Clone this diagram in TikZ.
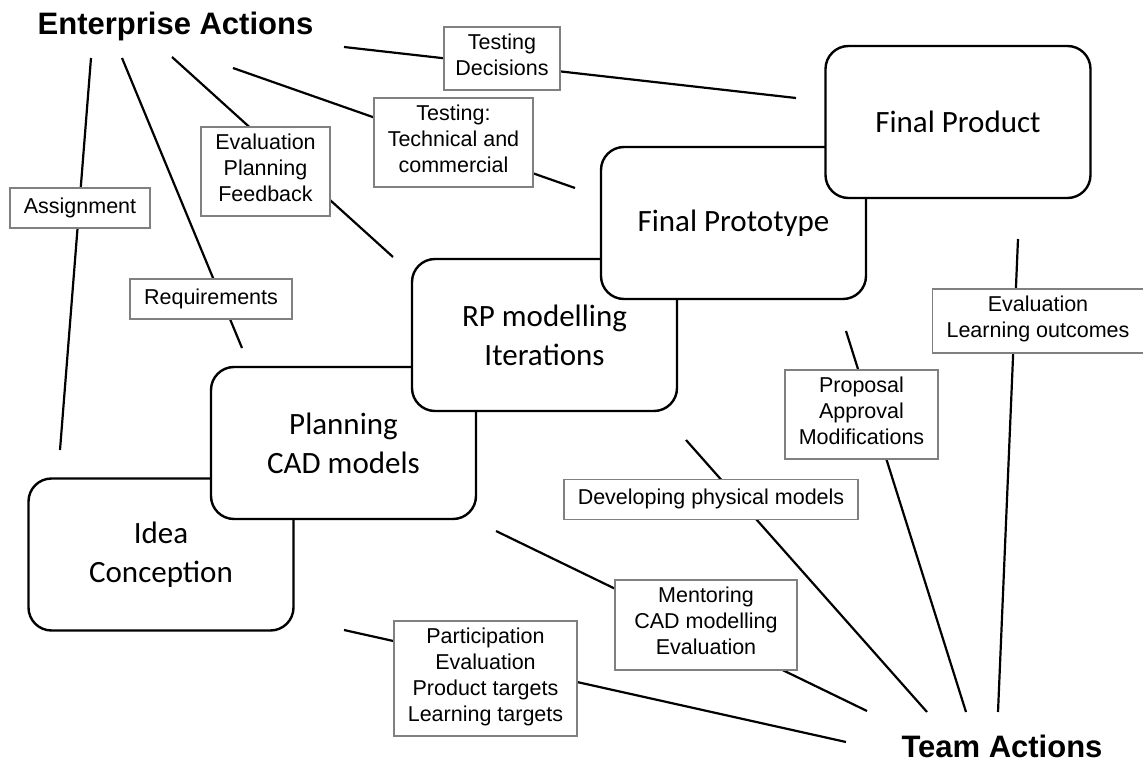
\documentclass[tikz,border=0pt]{standalone}
\usepackage{fontspec}
\setmainfont{Liberation Sans}
\newfontfamily\stagefont{Carlito}
\usetikzlibrary{positioning}
\tikzset{
  stage/.style={draw, line width=2.4pt, rounded corners=23pt, fill=white,
    minimum width=265pt, minimum height=152pt, align=center,
    font=\stagefont\fontsize{31}{39}\selectfont},
  note/.style={draw=black!50, line width=1.8pt, fill=white, align=center,
    inner xsep=14pt, inner ysep=7pt, font=\fontsize{21.5}{26}\selectfont,
    execute at begin node=\strut, execute at end node=\strut},
  actor/.style={font=\bfseries\fontsize{31}{36}\selectfont, inner sep=0pt, anchor=base},
  link/.style={line width=2.2pt}}

\begin{document}
\begin{tikzpicture}[x=1pt, y=-1pt]
      \useasboundingbox (0,0) rectangle (1143,762);
      % stages, back to front
      \node[stage] (idea)  at (161,554.5) {Idea\\Conception};
      \node[stage] (plan)  at (343.5,443) {Planning\\CAD models};
      \node[stage] (rp)    at (544.5,335) {RP modelling\\Iterations};
      \node[stage] (proto) at (733.5,223) {Final Prototype};
      \node[stage] (prod)  at (958,122)   {Final Product};
      \node[actor] (ent)   at (175.5,35)  {Enterprise Actions};
      \node[actor] (team)  at (1002,757)  {Team Actions};
      % free ends of the links
      \coordinate (s_1)  at (91,58);   \coordinate (t_1)  at (60,450);
      \coordinate (s_2)  at (122,58);  \coordinate (t_2)  at (242,348);
      \coordinate (s_3)  at (172,57);  \coordinate (t_3)  at (393,257);
      \coordinate (s_4)  at (233,68);  \coordinate (t_4)  at (575,188);
      \coordinate (s_5)  at (344,47);  \coordinate (t_5)  at (796,98);
      \coordinate (s_6)  at (1018,239); \coordinate (t_6) at (998,712);
      \coordinate (s_7)  at (846,331);  \coordinate (t_7) at (966,712);
      \coordinate (s_8)  at (686,440);  \coordinate (t_8) at (927,712);
      \coordinate (s_9)  at (496,531);  \coordinate (t_9) at (867,711);
      \coordinate (s_10) at (344,630); \coordinate (t_10) at (846,742);
      \path[link]
        (s_1) edge (t_1)
        (s_2) edge (t_2)
        (s_3) edge (t_3)
        (s_4) edge (t_4)
        (s_5) edge (t_5)
        (s_6) edge (t_6)
        (s_7) edge (t_7)
        (s_8) edge (t_8)
        (s_9) edge (t_9)
        (s_10) edge (t_10);
      % labels on the links
      \node[note] (assign) at (80,208)      {Assignment};
      \node[note] (req)    at (211,299)     {Requirements};
      \node[note] (epf)    at (265.5,171.5) {Evaluation\\Planning\\Feedback};
      \node[note] (ttc)    at (453.5,142.5) {Testing:\\Technical and\\commercial};
      \node[note, inner xsep=11.5pt] (td) at (502,58.5) {Testing\\Decisions};
      \node[note] (lo)     at (1038,321)    {Evaluation\\Learning outcomes};
      \node[note] (pam)    at (861.5,414.5) {Proposal\\Approval\\Modifications};
      \node[note] (dev)    at (711,499.5)   {Developing physical models};
      \node[note, minimum width=182pt] (ment) at (706,625) {Mentoring\\CAD modelling\\Evaluation};
      \node[note] (part)   at (485.5,678.5) {Participation\\Evaluation\\Product targets\\Learning targets};
    \end{tikzpicture}
\end{document}
